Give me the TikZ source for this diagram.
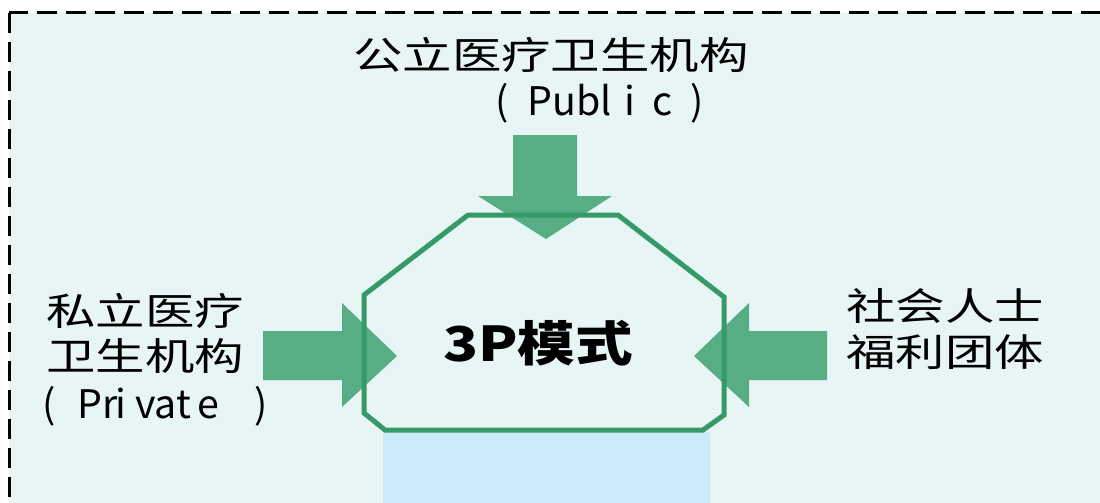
\documentclass[tikz,border=0pt]{standalone}
\usepackage{fontspec}
\newfontfamily\cjk[FakeStretch=1.3]{Noto Sans CJK SC}
\newfontfamily\lat{Noto Sans CJK SC}
\newfontfamily\cjkb[FakeStretch=1.2]{Noto Sans CJK SC}
\newdimen\PX \PX=0.75pt
\definecolor{panelfill}{HTML}{E8F5F5}
\definecolor{basefill}{HTML}{CCEBFA}
\definecolor{arrowgreen}{HTML}{57AD84}
\definecolor{linegreen}{HTML}{369A68}
\newcommand{\cell}[2]{\makebox[#1\PX][l]{#2}}
\tikzset{
  panel/.style={draw=black, fill=panelfill, line width=2.25pt, dash pattern=on 15pt off 6.75pt},
  blockarrow/.style={fill=arrowgreen, draw=none},
  hexframe/.style={draw=linegreen, line width=3.75pt, line join=miter},
  lbl/.style={inner sep=0pt, anchor=base west, font=\fontsize{28.5pt}{34.5pt}\selectfont},
  latlbl/.style={inner sep=0pt, anchor=base west, font=\fontsize{29.5pt}{34.5pt}\selectfont},
  title/.style={inner sep=0pt, anchor=base, font=\fontsize{36pt}{40pt}\selectfont}
}
\begin{document}
\begin{tikzpicture}[x=0.75pt,y=-0.75pt]
\useasboundingbox (0,0) rectangle (1100,503);
\begin{scope}
\clip (0,0) rectangle (1100,503);
\draw[panel] (9,13) rectangle (1130,540);
\fill[basefill] (383,432) rectangle (710,520);
\fill[blockarrow] (513,135) -- (577,135) -- (577,196) -- (612,196) -- (546,239) -- (478,196) -- (513,196) -- cycle;
\fill[blockarrow] (263,331) -- (342,331) -- (342,303) -- (397,356) -- (342,407) -- (342,380) -- (263,380) -- cycle;
\fill[blockarrow] (827,331) -- (749,331) -- (749,303) -- (694,356) -- (749,407) -- (749,380) -- (827,380) -- cycle;
\draw[hexframe] (468,215) -- (618,215) -- (724,297) -- (724,415) -- (703,430) -- (385,430) -- (364,413) -- (364,295) -- cycle;
\end{scope}
\node[lbl] (pub1) at (353,69.5) {\cjk 公立医疗卫生机构};
\node[latlbl] (pub2) at (495,115) {\lat\cell{32}{(}\cell{97}{Publ}\cell{28}{i}\cell{38}{c})};
\node[lbl] (pri1) at (46,325) {\cjk 私立医疗};
\node[lbl] (pri2) at (46,370) {\cjk 卫生机构};
\node[latlbl] (pri3) at (42,418) {\lat\cell{35}{(}\cell{38}{Pr}\cell{20}{i}\cell{62}{vat}\cell{57}{e})};
\node[lbl] (soc1) at (846,320) {\cjk 社会人士};
\node[lbl] (soc2) at (846,366.5) {\cjk 福利团体};
\node[title] (core) at (538,361) {\cjkb\bfseries 3P模式};
\end{tikzpicture}
\end{document}
